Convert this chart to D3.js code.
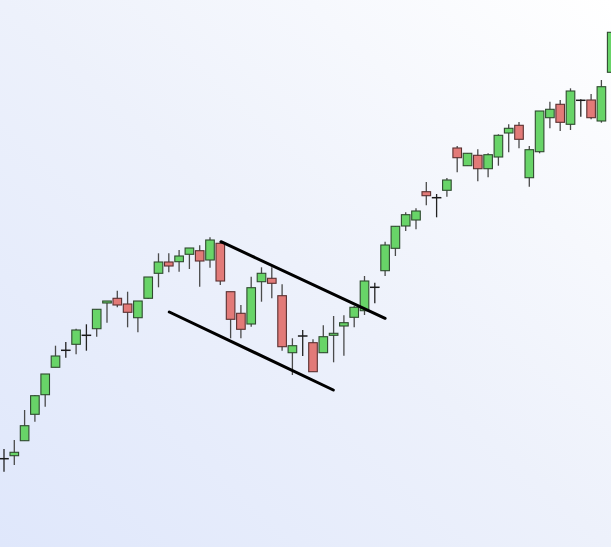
<!DOCTYPE html>
<html>
<head>
<meta charset="utf-8">
<script src="https://cdn.jsdelivr.net/npm/d3@7"></script>
<style>
html,body{margin:0;padding:0;overflow:hidden;}
svg{display:block;}
</style>
</head>
<body>
<svg id="chart" width="611" height="547"></svg>
<script>
// Candle data (arbitrary price units)
const openP  = [88.3,91.3,106.3,132.7,152.3,179.7,196.7,202.7,211.7,218.3,244,248.7,243,229.3,248.7,273.7,285,285.3,292.7,296.3,287,303.7,255.3,233.7,223,265.3,268.7,251.3,194.3,211,204.3,194.3,211.7,221,229.7,236.3,259.7,276.3,298.7,321,327,355.3,349.3,356.7,399,381.3,391.7,378.3,390,414,421.7,369.3,395.3,429.3,442.7,422.7,446.7,447,426,474.7];
const highP  = [98,107,137,152,173,201.3,205,218.3,222.7,238,246,256.3,255.3,246,270,293.7,293.7,297,299,301.7,309.7,305.3,255.3,242,270.3,279.7,279.7,262.7,208.7,217,207.7,221.7,231,231.7,241,271,264.3,305.3,321,334.7,338.7,365,353,369,401,394,397.7,393.7,412.7,422.7,425,401,436,445.3,447,458.7,447.7,453,467,520];
const lowP   = [75.3,82,106.3,125.3,140.3,179.7,189.3,192.7,196.3,210.3,224.3,239.7,219.7,214.7,248,259.7,274.7,275.3,278,260.3,279.3,262,208.7,208.7,220.3,245.3,248.7,196.3,172,191,175.3,194.3,184.7,191.3,219.7,232,243.7,271,291,316,317.7,341.7,329.7,350.3,374.7,381.3,365.7,369.7,381.3,394.7,398.7,360.3,393.7,418.7,416,417,430.3,427.7,424.3,470];
const closeP = [88.3,94.7,121.3,151.3,173,191,196.7,217,211.7,237.7,246,242,234.7,246,270,285,281,291,299,286,307,266,227.7,217.7,259.3,273.7,263.7,200.3,201.3,211,175.3,210.3,213.7,224.3,239.7,266,259.7,302,320.7,332.3,336,351.3,349.3,367,389.3,393.7,378.3,392.3,411.7,418.7,407.7,397.3,436,437.7,424.7,456,446.7,429.3,460.3,514.7];
// Channel trend lines: [candle index, price]
const upperLine = [[21.07,305.3],[37.0,228.7]];
const lowerLine = [[16.05,235],[31.97,157]];

const W = 611, H = 547;
const svg = d3.select("#chart");

const defs = svg.append("defs");
const grad = defs.append("linearGradient").attr("id","bg")
  .attr("x1","0").attr("y1","1").attr("x2","1").attr("y2","0");
grad.append("stop").attr("offset","0%").attr("stop-color","#dfe7fb");
grad.append("stop").attr("offset","50%").attr("stop-color","#edf1fb");
grad.append("stop").attr("offset","100%").attr("stop-color","#ffffff");
svg.append("rect").attr("width",W).attr("height",H).attr("fill","url(#bg)");

const candles = openP.map((o,i)=>({i, o, h:highP[i], l:lowP[i], c:closeP[i]}));

const x = d3.scaleLinear().domain([0, candles.length-1]).range([4, 611.7]);
const y = d3.scaleLinear().domain([0, 547]).range([547, 0]);

const bw = 8.6;
const g = svg.append("g");

// wicks
g.selectAll("line.wick").data(candles).join("line")
  .attr("class","wick")
  .attr("x1",d=>x(d.i)).attr("x2",d=>x(d.i))
  .attr("y1",d=>y(d.h)).attr("y2",d=>y(d.l))
  .attr("stroke",d=>d.o===d.c?"#222":"#4a4a4a").attr("stroke-width",1.3);

// bodies
const bodies = candles.filter(d=>d.o!==d.c);
g.selectAll("rect.body").data(bodies).join("rect")
  .attr("class","body")
  .attr("x",d=>x(d.i)-bw/2)
  .attr("width",bw)
  .attr("y",d=>y(Math.max(d.o,d.c)))
  .attr("height",d=>Math.max(1.5, Math.abs(y(d.o)-y(d.c))))
  .attr("fill",d=>d.c>d.o?"#68d468":"#e27a78")
  .attr("stroke",d=>d.c>d.o?"#2f4a2f":"#5a3030")
  .attr("stroke-width",1.1);

// doji crosses
const dojis = candles.filter(d=>d.o===d.c);
g.selectAll("line.doji").data(dojis).join("line")
  .attr("class","doji")
  .attr("x1",d=>x(d.i)-bw/2-0.5).attr("x2",d=>x(d.i)+bw/2+0.5)
  .attr("y1",d=>y(d.o)).attr("y2",d=>y(d.o))
  .attr("stroke","#1a1a1a").attr("stroke-width",1.5);

// channel lines
const line = d3.line().x(d=>x(d[0])).y(d=>y(d[1]));
[upperLine, lowerLine].forEach(l=>{
  svg.append("path").attr("d",line(l))
    .attr("fill","none").attr("stroke","#000").attr("stroke-width",3)
    .attr("stroke-linecap","round");
});
</script>
</body>
</html>
